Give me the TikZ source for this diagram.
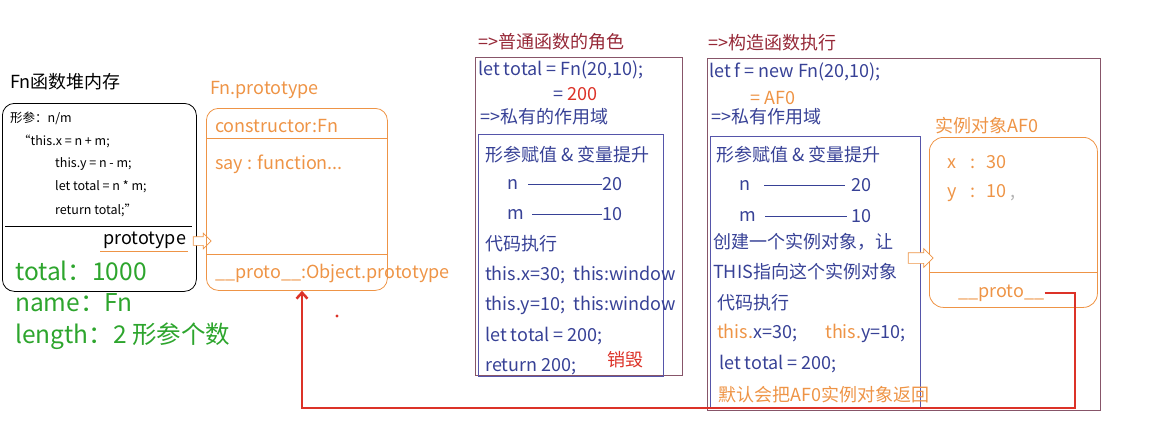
\documentclass[tikz,border=0pt]{standalone}
\usepackage{fontspec}
\setmainfont{Noto Sans CJK SC}
\usetikzlibrary{arrows.meta,positioning,shapes.arrows}

\definecolor{codeblue}{RGB}{55,65,150}
\definecolor{protoorange}{RGB}{238,148,70}
\definecolor{titlered}{RGB}{150,40,55}
\definecolor{framebrown}{RGB}{135,85,105}
\definecolor{scopeblue}{RGB}{85,85,170}
\definecolor{propgreen}{RGB}{45,165,45}
\definecolor{linkred}{RGB}{220,50,40}

\begin{document}
\begin{tikzpicture}[
			x=1pt,y=-1pt,
			>=Stealth,
			txt/.style={
				anchor=west,
				inner sep=0pt,
				text=codeblue,
				font=\fontsize{18}{18}\selectfont
			},
			small/.style={
				anchor=west,
				inner sep=0pt,
				font=\fontsize{12.5}{12.5}\selectfont
			},
			heading/.style={
				anchor=west,
				inner sep=0pt,
				text=titlered,
				font=\fontsize{18}{18}\selectfont
			},
			prop/.style={
				anchor=west,
				inner sep=0pt,
				text=propgreen,
				font=\fontsize{24.5}{24.5}\selectfont
			},
			orangetxt/.style={
				txt,
				text=protoorange
			},
			frame/.style={
				anchor=north west,
				inner sep=0pt,
				line width=0.8pt
			},
			hollow/.style={
				single arrow,
				draw=protoorange,
				fill=white,
				line width=0.7pt,
				inner sep=4pt,
				single arrow head extend=3.5pt
			},
			link/.style={
				-{Straight Barb[length=6pt,width=11pt]},
				draw=linkred,
				line width=2.5pt
			}
			]
			\useasboundingbox (0,0) rectangle (1170,426);

			% Fn 的堆内存
			\node[anchor=west,inner sep=0pt,font=\fontsize{18}{18}\selectfont] (heaptitle) at (10,82) {Fn函数堆内存};
			\node[frame,draw=black,rounded corners=12pt,minimum width=194pt,minimum height=188pt] (heap) at (2,103) {};
			\draw[black] (5,226) -- (192,226);
			\node[small] (params) at (10,118) {形参：n/m};
			\node[small] (body1) at (18,141) {“this.x = n + m;};
			\node[small] (body2) at (55,164) {this.y = n - m;};
			\node[small] (body3) at (55,187) {let total = n * m;};
			\node[small] (body4) at (55,210) {return total;”};
			\node[anchor=west,inner sep=0pt,font=\fontsize{18}{18}\selectfont] (protolink) at (103,240) {prototype};
			\draw[protoorange] (100,251) -- (188,251);
			\node[hollow,minimum height=18pt] (arrowleft) at (200,241) {};
			\node[prop] (total) at (15,271) {total：1000};
			\node[prop] (name) at (15,303) {name：Fn};
			\node[prop] (length) at (15,336) {length：2 形参个数};

			% Fn.prototype
			\node[orangetxt] (prototitle) at (210,90) {Fn.prototype};
			\node[frame,draw=protoorange,rounded corners=12pt,minimum width=181pt,minimum height=182pt] (fnproto) at (206,108) {};
			\draw[protoorange] (206,138) -- (387,138);
			\draw[protoorange] (206,254) -- (387,254);
			\node[orangetxt] (ctor) at (215,126) {constructor:Fn};
			\node[orangetxt] (say) at (215,164) {say : function...};
			\node[orangetxt] (objproto) at (215,274) {\_\_proto\_\_:Object.prototype};
			\fill[linkred] (337,316) circle (1.6);

			% 普通函数执行
			\node[heading] (normaltitle) at (478,42) {=>普通函数的角色};
			\node[frame,draw=framebrown,minimum width=207pt,minimum height=318pt] (normalbox) at (475,57) {};
			\node[txt] (call1) at (478,70) {let total = Fn(20,10);};
			\node[txt] (ret1) at (553,94) {= \textcolor{linkred}{200}};
			\node[txt] (scope1title) at (480,117) {=>私有的作用域};
			\node[frame,draw=scopeblue,line width=0.6pt,minimum width=185pt,minimum height=242pt] (scope1) at (478,134) {};
			\node[txt] (hoist1) at (485,155) {形参赋值 \& 变量提升};
			\node[txt] (n1) at (507,184) {n};
			\node[txt] (n1val) at (602,184) {20};
			\draw[codeblue] (528,184) -- (n1val.west);
			\node[txt] (m1) at (507,214) {m};
			\node[txt] (m1val) at (602,214) {10};
			\draw[codeblue] (532,214) -- (m1val.west);
			\node[txt] (run1) at (485,244) {代码执行};
			\node[txt] (x1) at (485,275) {this.x=30;\ \ this:window};
			\node[txt] (y1) at (485,305) {this.y=10;\ \ this:window};
			\node[txt] (let1) at (485,336) {let total = 200;};
			\node[txt] (return1) at (485,367) {return 200;};
			\node[txt,text=linkred] (destroy) at (607,360) {销毁};

			% 构造函数执行
			\node[heading] (newtitle) at (708,43) {=>构造函数执行};
			\node[frame,draw=framebrown,minimum width=393pt,minimum height=352pt] (newbox) at (707,58) {};
			\node[txt] (call2) at (709,72) {let f = new Fn(20,10);};
			\node[orangetxt] (ret2) at (750,98) {= AF0};
			\node[txt] (scope2title) at (711,117) {=>私有作用域};
			\node[frame,draw=scopeblue,line width=0.6pt,minimum width=210pt,minimum height=272pt] (scope2) at (710,136) {};
			\node[txt] (hoist2) at (716,155) {形参赋值 \& 变量提升};
			\node[txt] (n2) at (739,185) {n};
			\node[txt] (n2val) at (851,185) {20};
			\draw[codeblue] (764,185) -- (845,185);
			\node[txt] (m2) at (739,216) {m};
			\node[txt] (m2val) at (851,216) {10};
			\draw[codeblue] (765,216) -- (847,216);
			\node[txt] (create1) at (713,242) {创建一个实例对象，让};
			\node[txt] (create2) at (713,272) {THIS指向这个实例对象};
			\node[txt] (run2) at (717,303) {代码执行};
			\node[txt] (xy2) at (717,333) {\textcolor{protoorange}{this.}x=30;\hspace{28pt}\textcolor{protoorange}{this.}y=10;};
			\node[txt] (let2) at (719,364) {let total = 200;};
			\node[orangetxt] (return2) at (718,395) {默认会把AF0实例对象返回};

			% 实例对象 AF0
			\node[orangetxt] (insttitle) at (935,126) {实例对象AF0};
			\node[frame,draw=protoorange,rounded corners=14pt,minimum width=168pt,minimum height=170pt] (inst) at (929,137) {};
			\draw[protoorange] (929,272) -- (1097,272);
			\node[orangetxt] (instx) at (947,162) {x\hspace{14pt}:\hspace{11pt}30};
			\node[orangetxt] (insty) at (947,193) {y\hspace{14pt}:\hspace{11pt}10\ \textcolor{black!30}{,}};
			\node[hollow,minimum height=25pt,inner sep=5pt,single arrow head extend=4pt] (arrowright) at (918,258) {};
			\node[orangetxt] (instproto) at (958,293) {\_\_proto\_\_};

			% 原型链
			\coordinate (bend1) at (1075,408);
			\coordinate (bend2) at (302,408);
			\draw[link] (instproto.east) -- (instproto.east -| bend1) -- (bend1) -- (bend2) -- (bend2 |- fnproto.south);

\end{tikzpicture}
\end{document}
